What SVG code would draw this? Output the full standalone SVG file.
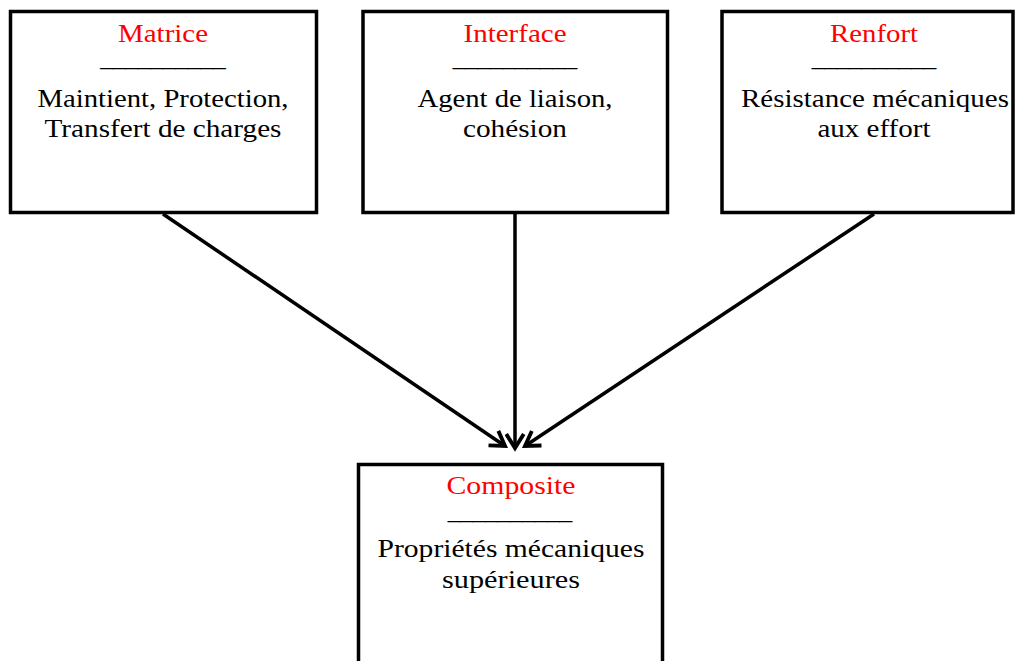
<svg xmlns="http://www.w3.org/2000/svg" width="1015" height="661" viewBox="0 0 1015 661">
<defs>
<style>
.box{fill:#fff;stroke:#000;stroke-width:3.5}
.t{font-family:"Liberation Serif","DejaVu Serif",serif;font-size:26px;text-anchor:middle;fill:#000}
.d{font-size:15px;font-weight:bold;stroke:#000;stroke-width:0.4}
.r{fill:#ff0000}
.conn{stroke:#000;stroke-width:3.5;fill:none;marker-end:url(#arr)}
</style>
<marker id="arr" viewBox="0 0 12 12" refX="10" refY="6" markerWidth="6" markerHeight="6" markerUnits="strokeWidth" orient="auto">
<path d="M2,1 L10,6 L2,11" fill="none" stroke="#000" stroke-width="2.2"/>
</marker>
</defs>
<rect width="1015" height="661" fill="#fff"/>
<g id="matrice">
<rect class="box" x="10.5" y="11.5" width="306" height="201"/>
<text class="t r" x="163" y="42" textLength="90" lengthAdjust="spacingAndGlyphs">Matrice</text>
<text class="t d" x="163" y="67" textLength="125" lengthAdjust="spacingAndGlyphs">__________</text>
<text class="t" x="163" y="107" textLength="251" lengthAdjust="spacingAndGlyphs">Maintient, Protection,</text>
<text class="t" x="163" y="137" textLength="237" lengthAdjust="spacingAndGlyphs">Transfert de charges</text>
</g>
<g id="interface">
<rect class="box" x="363" y="11.5" width="304.5" height="201"/>
<text class="t r" x="515" y="42" textLength="103" lengthAdjust="spacingAndGlyphs">Interface</text>
<text class="t d" x="515" y="67" textLength="124" lengthAdjust="spacingAndGlyphs">__________</text>
<text class="t" x="515" y="107" textLength="195" lengthAdjust="spacingAndGlyphs">Agent de liaison,</text>
<text class="t" x="515" y="137" textLength="104" lengthAdjust="spacingAndGlyphs">cohésion</text>
</g>
<g id="renfort">
<rect class="box" x="722" y="11.5" width="291" height="201"/>
<text class="t r" x="874" y="42" textLength="88" lengthAdjust="spacingAndGlyphs">Renfort</text>
<text class="t d" x="874" y="67" textLength="124" lengthAdjust="spacingAndGlyphs">__________</text>
<text class="t" x="875" y="107" textLength="268" lengthAdjust="spacingAndGlyphs">Résistance mécaniques</text>
<text class="t" x="874" y="137" textLength="113" lengthAdjust="spacingAndGlyphs">aux effort</text>
</g>
<g id="composite">
<rect class="box" x="358.5" y="464.5" width="304" height="200"/>
<text class="t r" x="511" y="494" textLength="129" lengthAdjust="spacingAndGlyphs">Composite</text>
<text class="t d" x="510" y="520" textLength="124" lengthAdjust="spacingAndGlyphs">__________</text>
<text class="t" x="511" y="557" textLength="267" lengthAdjust="spacingAndGlyphs">Propriétés mécaniques</text>
<text class="t" x="511" y="588" textLength="138" lengthAdjust="spacingAndGlyphs">supérieures</text>
</g>
<g id="connectors">
<line class="conn" x1="163" y1="214" x2="505" y2="446"/>
<line class="conn" x1="515" y1="214" x2="515" y2="448"/>
<line class="conn" x1="874" y1="214" x2="525" y2="446"/>
</g>
</svg>
